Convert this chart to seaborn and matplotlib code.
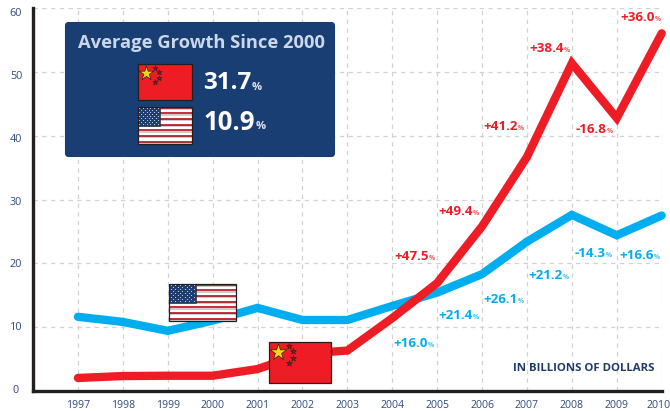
import numpy as np
import pandas as pd
import matplotlib
matplotlib.use("Agg")
import matplotlib.pyplot as plt
from matplotlib.patches import Rectangle, FancyBboxPatch
from matplotlib.transforms import Affine2D
import seaborn as sns

years = list(range(1997, 2011))
usa_values = [11.6, 10.8, 9.4, 11.0, 13.0, 11.1, 11.1, 13.3, 15.4, 18.3, 23.4, 27.6, 24.4, 27.5]
china_values = [2.0, 2.3, 2.35, 2.35, 3.4, 5.8, 6.3, 11.4, 16.9, 25.8, 36.7, 51.4, 42.8, 56.1]
china_changes = {2005: "+47.5", 2006: "+49.4", 2007: "+41.2", 2008: "+38.4", 2009: "-16.8", 2010: "+36.0"}
usa_changes = {2005: "+16.0", 2006: "+21.4", 2007: "+26.1", 2008: "+21.2", 2009: "-14.3", 2010: "+16.6"}
china_offsets = {2005: (-8, 27), 2006: (-9, 15), 2007: (-9, 30), 2008: (-8, 15), 2009: (-10, -11), 2010: (-7, 16)}
usa_offsets = {2005: (-9, -51), 2006: (-9, -41), 2007: (-9, -58), 2008: (-9, -61), 2009: (-11, -18), 2010: (-8, -40)}
y_ticks = [0, 10, 20, 30, 40, 50, 60]

RED = "#ee1c25"
BLUE = "#00aeef"
NAVY = "#183e73"
TICK = "#2f4b7c"
INK = "#231f20"

sns.set_theme(style="white")
plt.rcParams["font.family"] = ["Open Sans", "DejaVu Sans"]

W, H = 670, 411
fig = plt.figure(figsize=(W / 100, H / 100), dpi=100, facecolor="white")
ax = fig.add_axes([33 / W, 1 - 390.7 / H, (661.7 - 33) / W, (390.7 - 8.5) / H])

df = pd.DataFrame({
    "year": years * 2,
    "value": usa_values + china_values,
    "country": ["USA"] * len(years) + ["China"] * len(years),
})
sns.lineplot(
    data=df, x="year", y="value", hue="country", hue_order=["USA", "China"],
    palette={"USA": BLUE, "China": RED}, linewidth=6.0, legend=False, ax=ax,
    solid_capstyle="round", solid_joinstyle="miter", clip_on=False, errorbar=None,
)

ax.set_xlim(1996.0, 2010.0)
ax.set_ylim(0, 60)
ax.set_xlabel("")
ax.set_ylabel("")
ax.set_xticks(years)
ax.set_yticks(y_ticks)
ax.set_yticklabels([])
ax.tick_params(axis="both", length=0)
ax.tick_params(axis="x", pad=6.5, labelsize=7.6, labelcolor=TICK)
# Pull the last year in slightly so it stays inside the figure.
last_label = ax.get_xticklabels()[-1]
last_label.set_transform(last_label.get_transform() + Affine2D().translate(-3, 0))
ax.grid(True, color="#d2d2d2", linestyle=(0, (3.5, 3.5)), linewidth=0.9)
ax.set_axisbelow(True)
for side in ("top", "right"):
    ax.spines[side].set_visible(False)
for side in ("left", "bottom"):
    ax.spines[side].set_color(INK)
    ax.spines[side].set_linewidth(2.4)
    ax.spines[side].set_capstyle("projecting")

# The y labels sit a touch tighter than the gridlines they belong to.
for v in y_ticks:
    ax.annotate(str(v), xy=(0, v), xycoords=ax.get_yaxis_transform(),
                xytext=(-17, -0.083 * v), textcoords="offset pixels",
                ha="center", va="center", fontsize=7.8, color=TICK, annotation_clip=False)


def change_label(year, value, text, offset, color):
    ann = ax.annotate(text, xy=(year, value), xytext=offset, textcoords="offset pixels",
                      ha="right", va="center", fontsize=9.6, fontweight="bold",
                      color=color, annotation_clip=False, zorder=6)
    ax.annotate("%", xy=(year, value), xytext=(offset[0], offset[1] - 2), textcoords="offset pixels",
                ha="left", va="center", fontsize=4.8, fontweight="bold",
                color=color, alpha=0.75, annotation_clip=False, zorder=6)
    return ann


for yr, txt in china_changes.items():
    change_label(yr, china_values[years.index(yr)], txt, china_offsets[yr], RED)
for yr, txt in usa_changes.items():
    change_label(yr, usa_values[years.index(yr)], txt, usa_offsets[yr], BLUE)

# Overlay in pixel units for the call-out panel and the flags.
ov = fig.add_axes([0, 0, 1, 1], facecolor="none", zorder=5)
ov.set_xlim(0, W)
ov.set_ylim(H, 0)
ov.axis("off")

ov.add_patch(FancyBboxPatch((66, 23), 268, 133, boxstyle="round,pad=0,rounding_size=2.5",
                            facecolor=NAVY, edgecolor=NAVY, linewidth=1.5))


def china_flag(x, y, w, h):
    ov.add_patch(Rectangle((x, y), w, h, facecolor=RED, edgecolor=INK, linewidth=0.9))
    ov.scatter([x + 0.16 * w], [y + 0.25 * h], marker="*", s=(0.30 * h) ** 2 * 1.0,
               color="#f7d417", edgecolor=INK, linewidth=0.5, zorder=3)
    small = [(0.33, 0.09), (0.40, 0.22), (0.40, 0.38), (0.33, 0.50)]
    ov.scatter([x + a * w for a, _ in small], [y + b * h for _, b in small], marker="*",
               s=(0.11 * h) ** 2 * 1.0, color="#8a1c22", edgecolor=INK, linewidth=0.4, zorder=3)


def usa_flag(x, y, w, h):
    ov.add_patch(Rectangle((x, y), w, h, facecolor="white", edgecolor="none"))
    band = h / 13
    for i in range(0, 13, 2):
        ov.add_patch(Rectangle((x, y + i * band), w, band * 0.72, facecolor="#c8323c", edgecolor="none"))
        ov.plot([x, x + w], [y + i * band + band * 0.85] * 2, color="#333333", lw=0.35)
    ov.add_patch(Rectangle((x, y), 0.41 * w, 7 * band, facecolor="#1d3f78", edgecolor=INK, linewidth=0.4))
    for r in range(9):
        cols = 6 if r % 2 == 0 else 5
        for c in range(cols):
            ov.plot(x + (0.035 + c * 0.068 + (0 if r % 2 == 0 else 0.034)) * w,
                    y + (r + 0.8) * 7 * band / 10, marker="o", ms=0.55, color="white", mew=0)
    ov.add_patch(Rectangle((x, y), w, h, facecolor="none", edgecolor=INK, linewidth=0.9))


china_flag(137.5, 64.5, 54, 36)
usa_flag(137.5, 106.5, 54, 37)
usa_flag(168.5, 283.5, 67, 37)
china_flag(268.5, 342, 62, 41)

ov.text(201, 43, "Average Growth Since 2000", ha="center", va="center",
        fontsize=13.2, fontweight="bold", color="#cdd7ea")
ov.text(251, 83, "31.7", ha="right", va="center", fontsize=17.5, fontweight="bold", color="white")
ov.text(252, 87, "%", ha="left", va="center", fontsize=8, fontweight="bold", color="#dfe5f0")
ov.text(255, 122, "10.9", ha="right", va="center", fontsize=18.5, fontweight="bold", color="white")
ov.text(256, 126, "%", ha="left", va="center", fontsize=8, fontweight="bold", color="#dfe5f0")
ov.text(654, 368, "IN BILLIONS OF DOLLARS", ha="right", va="center",
        fontsize=8.2, fontweight="bold", color="#1f3a6b")

fig.savefig("out.png", dpi=100, facecolor="white")
